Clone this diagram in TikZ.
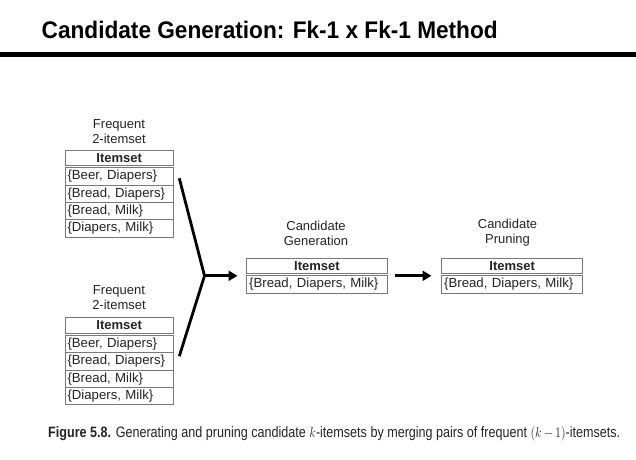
\documentclass[tikz,border=0pt]{standalone}
\usepackage{fontspec}
\setmainfont{Liberation Sans}
\usepackage{graphicx}
\usetikzlibrary{arrows.meta}

\definecolor{bordergray}{RGB}{120,120,120}
\definecolor{textdark}{RGB}{35,35,35}

\tikzset{
  cellline/.style={draw=bordergray, line width=0.8pt},
  hdr/.style={draw=bordergray, line width=0.8pt, minimum height=15.5pt,
    inner sep=0pt, outer sep=0pt, text=textdark,
    font=\fontsize{13}{14}\selectfont\bfseries},
  itemrow/.style={draw=bordergray, line width=0.8pt, minimum height=17.4pt,
    inner xsep=2.5pt, inner ysep=0pt, outer sep=0pt, align=left, text=textdark,
    font=\fontsize{13.2}{14}\selectfont},
  lbl/.style={align=center, text=textdark, inner sep=0pt,
    font=\fontsize{13}{15}\selectfont},
  conn/.style={line width=2.8pt, draw=black, line join=miter},
  flow/.style={line width=2.8pt, draw=black,
    -{Triangle[length=9pt,width=10pt]}},
}

% Itemset table: name, left x, top y, width, rows
\newcommand{\itemtable}[5]{%
  \node[hdr, minimum width=#4pt, anchor=north west] (#1-h) at (#2,#3) {Itemset};
  \draw[cellline] (#2,#3+17.5) -- (#2+#4,#3+17.5);
  \pgfmathsetmacro\tblw{#4-5}%
  \foreach \txt [count=\i] in {#5} {
    \node[itemrow, minimum width=#4pt, text width=\tblw pt, anchor=north west]
      (#1-r\i) at (#2,#3+17.5+17.4*\i-17.4) {\txt};
  }
}

\begin{document}
\begin{tikzpicture}[x=1pt,y=-1pt]
  \useasboundingbox (0,0) rectangle (636,459);

  % heading and rule
  \node[anchor=base west, inner sep=0pt] (title) at (41.5,38.5)
    {\resizebox{456pt}{\height}{\fontsize{24}{28}\selectfont\bfseries Candidate Generation: Fk-1 x Fk-1 Method}};
  \fill[black] (0,52) rectangle (636,57);

  % frequent 2-itemsets
  \node[lbl] (freqA) at (119,131.5) {Frequent\\2-itemset};
  \itemtable{ta}{65}{150}{108.3}{{\{Beer, Diapers\}},{\{Bread, Diapers\}},{\{Bread, Milk\}},{\{Diapers, Milk\}}}

  \node[lbl] (freqB) at (119,297.5) {Frequent\\2-itemset};
  \itemtable{tb}{65}{317.7}{108.3}{{\{Beer, Diapers\}},{\{Bread, Diapers\}},{\{Bread, Milk\}},{\{Diapers, Milk\}}}

  % candidate generation
  \node[lbl] (gen) at (316,233) {Candidate\\Generation};
  \itemtable{tg}{246.7}{258.3}{140.6}{{\{Bread, Diapers, Milk\}}}

  % candidate pruning
  \node[lbl] (prune) at (507.5,233) {Candidate\\Pruning};
  \itemtable{tp}{441.7}{258.3}{141}{{\{Bread, Diapers, Milk\}}}

  % merging connectors
  \coordinate (mergeTop) at (179.3,178.3);
  \coordinate (merge) at (204.5,275.8);
  \coordinate (mergeBot) at (179.3,356.2);
  \coordinate (genIn) at (237.5,275.8);
  \coordinate (pruneOut) at (395,275.8);
  \coordinate (pruneIn) at (431.5,275.8);
  \draw[conn] (mergeTop) -- (merge) -- (mergeBot);
  \draw[flow] (merge) -- (genIn);
  \draw[flow] (pruneOut) -- (pruneIn);

  % caption
  \node[anchor=base west, inner sep=0pt, text=textdark] (caption) at (48,437)
    {\resizebox{572pt}{\height}{\fontsize{15}{17}\selectfont\textbf{Figure 5.8.} Generating and pruning candidate $k$-itemsets by merging pairs of frequent $(k\,{-}\,1)$-itemsets.}};
\end{tikzpicture}
\end{document}
